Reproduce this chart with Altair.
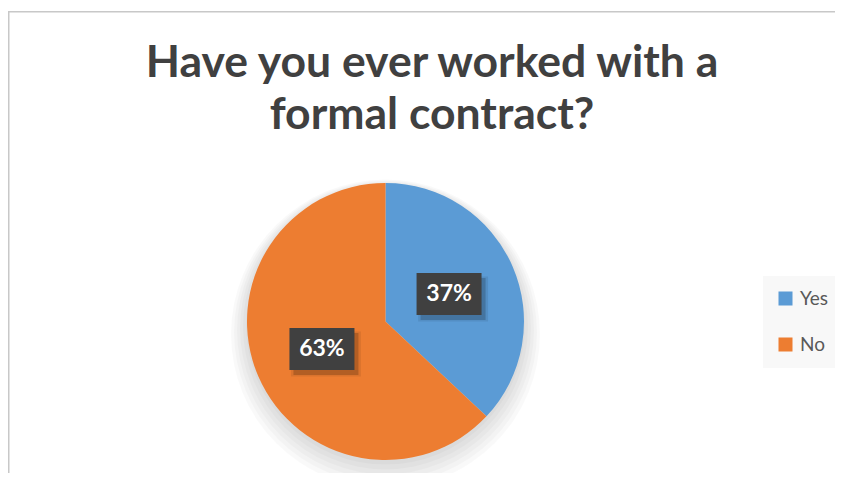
import altair as alt
import pandas as pd

# ---- data ----
CATEGORIES = ["Yes", "No"]
VALUES = [37, 63]
ORDER = [0, 1]
COLORS = ["#5B9BD5", "#ED7D31"]
TITLE_LINES = ["Have you ever worked with a", "formal contract?"]

df = pd.DataFrame({"answer": CATEGORIES, "value": VALUES, "order": ORDER})

# ---- layout (canvas px) ----
W, H = 827, 465
CX, CY, R = 377.5, 313.5, 138.5
FONT = "Lato"

base = alt.Chart(df)

# soft shadow behind pie (mostly below)
shadows = [
    alt.Chart(df.head(1)).mark_arc(theta=0, theta2=6.2832, outerRadius=R + d, color="black", opacity=0.022)
    .encode(x=alt.value(CX), y=alt.value(CY + 3 + d * 0.6))
    for d in (1, 4, 7, 10, 13, 16)
]

pie = base.mark_arc(outerRadius=R, stroke=None).encode(
    theta=alt.Theta("value:Q", stack=True),
    order=alt.Order("order:Q", sort="ascending"),
    color=alt.Color(
        "answer:N",
        scale=alt.Scale(domain=CATEGORIES, range=COLORS),
        legend=alt.Legend(
            title=None,
            orient="none",
            legendX=755,
            legendY=268,
            direction="vertical",
            symbolType="square",
            symbolSize=196,
            symbolStrokeWidth=0,
            labelFont=FONT,
            labelFontSize=19,
            labelColor="#595959",
            labelOffset=5,
            rowPadding=26,
            padding=13,
            fillColor="#f8f8f8",
        ),
    ),
    x=alt.value(CX),
    y=alt.value(CY),
)

lbl = base.transform_joinaggregate(total="sum(value)").transform_window(
    cum="sum(value)", sort=[alt.SortField("order", order="ascending")], frame=[None, 0]
).transform_calculate(
    mid="2*PI*(datum.cum - datum.value/2)/datum.total",
    lx="sin(datum.mid)*0.5",
    ly="cos(datum.mid)*0.5",
    label="round(datum.value/datum.total*100) + '%'",
)

xs = alt.X("lx:Q", axis=None, scale=alt.Scale(domain=[-1, 1], range=[CX - R, CX + R], nice=False, zero=False))
ys = alt.Y("ly:Q", axis=None, scale=alt.Scale(domain=[-1, 1], range=[CY + R, CY - R], nice=False, zero=False))
BOX = "M-1,-0.646H1V0.646H-1Z"

box_shadow1 = lbl.mark_point(shape=BOX, size=4900, filled=True, color="black", opacity=0.08, xOffset=4, yOffset=5).encode(x=xs, y=ys)
box_shadow2 = lbl.mark_point(shape=BOX, size=4225, filled=True, color="black", opacity=0.18, xOffset=4, yOffset=5).encode(x=xs, y=ys)
box = lbl.mark_point(shape=BOX, size=4225, filled=True, color="#404040", opacity=1).encode(x=xs, y=ys)
txt = lbl.mark_text(font=FONT, fontSize=23, fontWeight="bold", color="white", baseline="middle", align="center").encode(
    x=xs, y=ys, text="label:N"
)

title = alt.Chart(df.head(1)).mark_text(
    text=TITLE_LINES,
    font=FONT,
    fontSize=44.5,
    fontWeight="bold",
    color="#404040",
    align="center",
    baseline="alphabetic",
    lineHeight=52,
).encode(x=alt.value(424), y=alt.value(69))

border = alt.Chart(df.head(1)).mark_rect(fill=None, stroke="#c8c8c8", strokeWidth=1.5).encode(
    x=alt.value(0.75), y=alt.value(3.75), x2=alt.value(W + 20), y2=alt.value(H + 20)
)

chart = alt.layer(border, *shadows, pie, box_shadow1, box_shadow2, box, txt, title).properties(
    width=W, height=H, padding=0, autosize=alt.AutoSizeParams(type="none"), background="white"
).configure_view(stroke=None)

chart.save("out.html", embed_options={"renderer": "svg", "actions": False})
